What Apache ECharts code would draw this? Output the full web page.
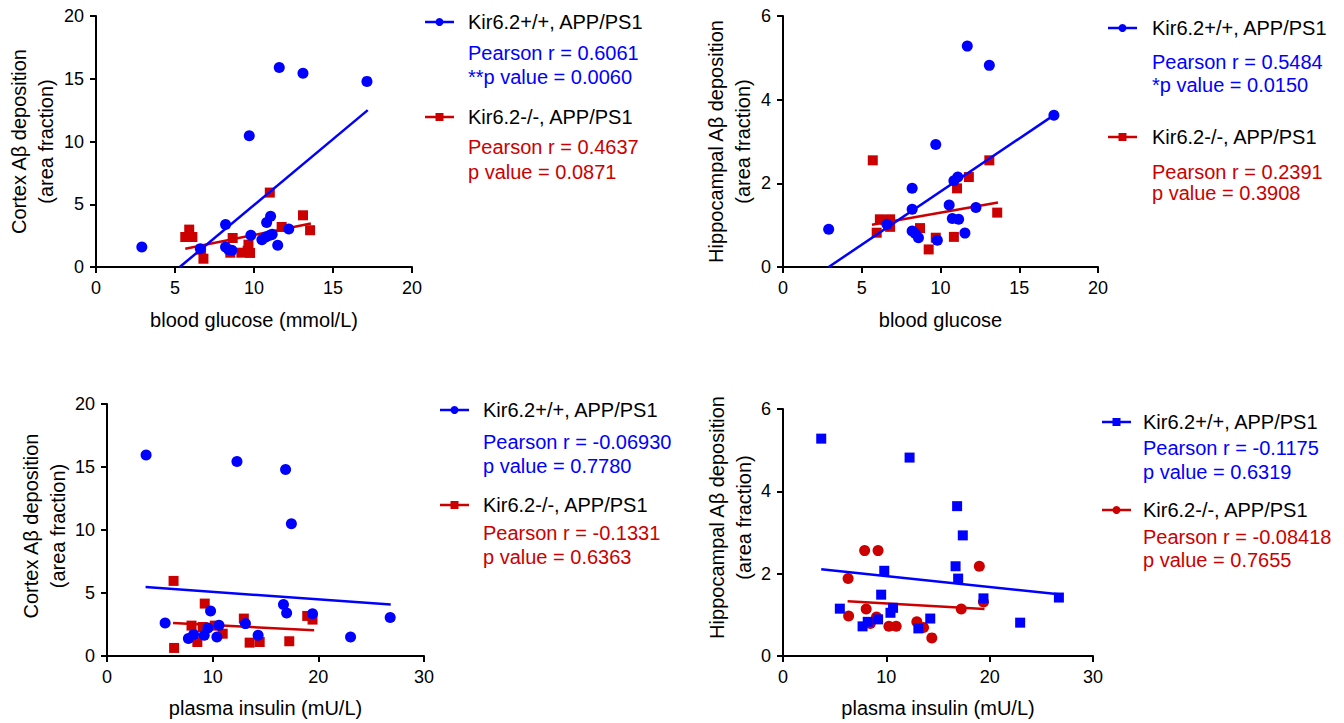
<!DOCTYPE html>
<html>
<head>
<meta charset="utf-8">
<script src="https://cdn.jsdelivr.net/npm/echarts@6/dist/echarts.min.js"></script>
<style>
html,body{margin:0;padding:0;background:#fff;}
#c{width:1344px;height:723px;}
</style>
</head>
<body>
<div id="c"></div>
<script>
// ---------- data ----------
// Panel A: cortex vs blood glucose
const cortexGluWT = [[2.9,1.6],[6.6,1.46],[8.2,3.38],[8.2,1.6],[8.4,1.38],[8.6,1.33],[9.7,10.45],[9.8,2.53],[10.5,2.18],[10.75,2.39],[11.0,2.53],[11.15,2.6],[10.8,3.54],[11.05,4.04],[11.5,1.73],[11.6,15.9],[12.2,3.03],[13.1,15.43],[17.15,14.79]];
const cortexGluKO = [[5.9,2.98],[5.65,2.39],[6.1,2.39],[6.65,1.38],[6.8,0.66],[8.65,2.31],[8.5,1.14],[9.2,1.14],[9.65,1.78],[9.75,1.12],[9.6,1.3],[11.0,5.93],[11.75,3.19],[13.1,4.12],[13.55,2.93]];
const cortexGluWTFit = [[5.3,0],[17.2,12.5]];
const cortexGluKOFit = [[5.65,1.46],[13.6,3.46]];

// Panel B: hippocampus vs blood glucose
const hippoGluWT = [[2.9,0.9],[6.6,1.02],[8.2,1.88],[8.2,1.38],[8.2,0.86],[8.4,0.8],[8.6,0.7],[9.7,2.93],[9.8,0.64],[10.55,1.48],[10.75,1.16],[11.15,1.14],[10.85,2.06],[11.1,2.15],[11.55,0.81],[11.7,5.28],[12.25,1.42],[13.1,4.82],[17.2,3.63]];
const hippoGluKO = [[5.7,2.55],[5.95,0.82],[6.15,1.14],[6.5,1.12],[6.8,1.14],[6.8,0.96],[8.7,0.93],[9.25,0.42],[9.7,0.7],[10.85,0.72],[11.05,1.88],[11.8,2.15],[13.1,2.55],[13.6,1.3]];
const hippoGluWTFit = [[2.9,0],[17.2,3.63]];
const hippoGluKOFit = [[5.65,1.01],[13.65,1.54]];

// Panel C: cortex vs plasma insulin
const cortexInsWT = [[3.7,15.95],[5.5,2.62],[7.7,1.38],[8.2,1.7],[9.2,1.64],[9.55,2.23],[9.8,3.58],[10.4,1.51],[10.6,2.44],[12.3,15.44],[13.1,2.57],[14.3,1.64],[16.7,4.08],[16.9,14.81],[17.0,3.42],[17.45,10.49],[19.45,3.36],[23.05,1.51],[26.8,3.05]];
const cortexInsKO = [[6.3,5.96],[6.35,0.64],[8.0,2.41],[8.55,1.11],[9.05,2.3],[9.25,4.16],[10.2,2.41],[10.95,1.77],[12.95,2.97],[13.5,1.06],[14.45,1.11],[17.25,1.17],[18.95,3.18],[19.45,2.89]];
const cortexInsWTFit = [[3.65,5.48],[26.85,4.08]];
const cortexInsKOFit = [[6.25,2.62],[19.6,2.04]];

// Panel D: hippocampus vs plasma insulin
const hippoInsWT = [[3.7,5.28],[5.5,1.15],[7.7,0.72],[8.2,0.83],[9.2,0.89],[9.5,1.49],[9.8,2.07],[10.4,1.05],[10.65,1.17],[12.25,4.82],[13.1,0.67],[14.25,0.91],[16.7,2.18],[16.85,3.64],[16.95,1.88],[17.4,2.93],[19.4,1.4],[22.95,0.81],[26.7,1.42]];
const hippoInsKO = [[6.3,1.88],[6.35,0.97],[7.9,2.56],[8.05,1.14],[8.45,0.79],[9.05,0.95],[9.2,2.56],[10.25,0.72],[10.95,0.72],[12.95,0.83],[13.6,0.69],[14.4,0.44],[17.25,1.14],[19.0,2.18],[19.4,1.31]];
const hippoInsWTFit = [[3.7,2.11],[26.7,1.5]];
const hippoInsKOFit = [[6.25,1.33],[19.5,1.14]];

// ---------- labels ----------
const groupWT = 'Kir6.2+/+, APP/PS1';
const groupKO = 'Kir6.2-/-, APP/PS1';
const xNames = ['blood glucose (mmol/L)', 'blood glucose', 'plasma insulin (mU/L)', 'plasma insulin (mU/L)'];
const yNames = ['Cortex A\u03b2 deposition\n(area fraction)', 'Hippocampal A\u03b2 deposition\n(area fraction)', 'Cortex A\u03b2 deposition\n(area fraction)', 'Hippocampal A\u03b2 deposition\n(area fraction)'];
const statsWT = [['Pearson r = 0.6061', '**p value = 0.0060'], ['Pearson r = 0.5484', '*p value = 0.0150'], ['Pearson r = -0.06930', 'p value = 0.7780'], ['Pearson r = -0.1175', 'p value = 0.6319']];
const statsKO = [['Pearson r = 0.4637', 'p value = 0.0871'], ['Pearson r = 0.2391', 'p value = 0.3908'], ['Pearson r = -0.1331', 'p value = 0.6363'], ['Pearson r = -0.08418', 'p value = 0.7655']];
const xMax = [20, 20, 30, 30];
const xStep = [5, 5, 10, 10];
const yMax = [20, 6, 20, 6];
const yStep = [5, 2, 5, 2];

// ---------- styling ----------
const BLUE = '#0000ff';
const RED = '#cc0000';
const FONT = '"Liberation Sans", Arial, Helvetica, sans-serif';

const grids = [
  {left: 96, top: 16, width: 316, height: 251},
  {left: 783, top: 16, width: 315, height: 251},
  {left: 107, top: 404, width: 317, height: 252},
  {left: 783, top: 409, width: 310, height: 247}
];
const yNameGap = [37, 27, 36, 24];
const yNamePad = [[0,0,0,0],[0,0,0,0],[0,0,0,8],[0,0,0,30]];
const xNameGap = [43, 43, 42, 42];

const WT = [cortexGluWT, hippoGluWT, cortexInsWT, hippoInsWT];
const KO = [cortexGluKO, hippoGluKO, cortexInsKO, hippoInsKO];
const WTFit = [cortexGluWTFit, hippoGluWTFit, cortexInsWTFit, hippoInsWTFit];
const KOFit = [cortexGluKOFit, hippoGluKOFit, cortexInsKOFit, hippoInsKOFit];
const wtSymbol = ['circle', 'circle', 'circle', 'rect'];
const koSymbol = ['rect', 'rect', 'rect', 'circle'];

const axisCommon = {
  axisLine: {show: true, onZero: false, lineStyle: {color: '#000', width: 2}},
  axisTick: {show: true, inside: false, length: 6, lineStyle: {color: '#000', width: 2}},
  splitLine: {show: false},
  axisLabel: {color: '#000', fontSize: 18, fontFamily: FONT, margin: 12}
};

const xAxis = [], yAxis = [], series = [];
for (let i = 0; i < 4; i++) {
  xAxis.push(Object.assign({}, axisCommon, {
    type: 'value', gridIndex: i, min: 0, max: xMax[i], interval: xStep[i],
    name: xNames[i], nameLocation: 'middle', nameGap: xNameGap[i],
    nameTextStyle: {color: '#000', fontSize: 20, fontFamily: FONT}
  }));
  yAxis.push(Object.assign({}, axisCommon, {
    type: 'value', gridIndex: i, min: 0, max: yMax[i], interval: yStep[i],
    name: yNames[i], nameLocation: 'middle', nameGap: yNameGap[i], nameRotate: 90,
    nameTextStyle: {color: '#000', fontSize: 20, fontFamily: FONT, lineHeight: 27, padding: yNamePad[i]}
  }));
  series.push({
    type: 'scatter', xAxisIndex: i, yAxisIndex: i, data: KO[i], symbol: koSymbol[i],
    symbolSize: koSymbol[i] === 'rect' ? 10 : 11, itemStyle: {color: RED, opacity: 1}, z: 2, silent: true
  });
  series.push({
    type: 'line', xAxisIndex: i, yAxisIndex: i, data: KOFit[i], symbol: 'none',
    lineStyle: {color: RED, width: 2.5}, z: 3, silent: true
  });
  series.push({
    type: 'scatter', xAxisIndex: i, yAxisIndex: i, data: WT[i], symbol: wtSymbol[i],
    symbolSize: wtSymbol[i] === 'rect' ? 10 : 11, itemStyle: {color: BLUE, opacity: 1}, z: 4, silent: true
  });
  series.push({
    type: 'line', xAxisIndex: i, yAxisIndex: i, data: WTFit[i], symbol: 'none',
    lineStyle: {color: BLUE, width: 2.5}, z: 5, silent: true
  });
}

// ---------- legends (graphic) ----------
// y positions: [wtSym, wtR, wtP, koSym, koR, koP]
const legendPos = [
  {x: 425, tx: 468, ys: [22, 53, 77, 117, 147, 172]},
  {x: 1108, tx: 1152, ys: [28, 62, 85, 137, 172, 193]},
  {x: 440, tx: 483, ys: [410, 442, 466, 505, 533, 557]},
  {x: 1102, tx: 1143, ys: [422, 448, 472, 510, 537, 560]}
];
function symbolEl(type, cx, cy, color) {
  if (type === 'circle') return {type: 'circle', shape: {cx: cx, cy: cy, r: 4}, style: {fill: color}, z: 10};
  return {type: 'rect', shape: {x: cx - 4, y: cy - 4, width: 8, height: 8}, style: {fill: color}, z: 10};
}
function textEl(str, x, y, color) {
  return {type: 'text', x: x, y: y, style: {text: str, fill: color, font: '20px ' + FONT, textVerticalAlign: 'middle', verticalAlign: 'middle'}, z: 10};
}
const graphic = [];
for (let i = 0; i < 4; i++) {
  const p = legendPos[i];
  graphic.push({type: 'line', shape: {x1: p.x, y1: p.ys[0], x2: p.x + 29, y2: p.ys[0]}, style: {stroke: BLUE, lineWidth: 2.5}, z: 9});
  graphic.push(symbolEl(wtSymbol[i], p.x + 14.5, p.ys[0], BLUE));
  graphic.push(textEl(groupWT, p.tx, p.ys[0], '#000'));
  graphic.push(textEl(statsWT[i][0], p.tx, p.ys[1], BLUE));
  graphic.push(textEl(statsWT[i][1], p.tx, p.ys[2], BLUE));
  graphic.push({type: 'line', shape: {x1: p.x, y1: p.ys[3], x2: p.x + 29, y2: p.ys[3]}, style: {stroke: RED, lineWidth: 2.5}, z: 9});
  graphic.push(symbolEl(koSymbol[i], p.x + 14.5, p.ys[3], RED));
  graphic.push(textEl(groupKO, p.tx, p.ys[3], '#000'));
  graphic.push(textEl(statsKO[i][0], p.tx, p.ys[4], RED));
  graphic.push(textEl(statsKO[i][1], p.tx, p.ys[5], RED));
}

const chart = echarts.init(document.getElementById('c'), null, {renderer: 'svg'});
chart.setOption({
  backgroundColor: '#fff',
  animation: false,
  textStyle: {fontFamily: FONT},
  grid: grids,
  xAxis: xAxis,
  yAxis: yAxis,
  series: series,
  graphic: graphic
});
</script>
</body>
</html>
